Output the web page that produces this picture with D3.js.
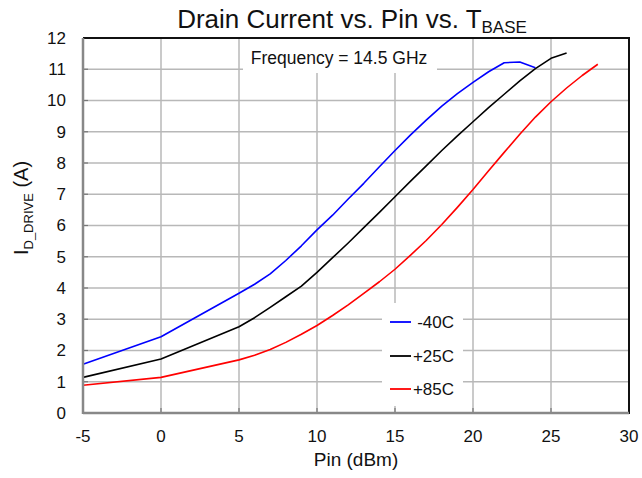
<!DOCTYPE html>
<html><head><meta charset="utf-8">
<script src="https://cdn.jsdelivr.net/npm/d3@7"></script>
<style>body{margin:0;background:#fff}svg{display:block;font-family:"Liberation Sans",Arial,sans-serif}</style>
</head><body><svg id="c" width="642" height="478"></svg>
<script>
const xTicks = [-5,0,5,10,15,20,25,30];
const yTicks = [0,1,2,3,4,5,6,7,8,9,10,11,12];
const seriesNames = ["-40C","+25C","+85C"];
const seriesColors = ["#0000ff","#000000","#ff0000"];
const pinM40 = [-5,0,5,6,7,8,9,10,11,12,13,14,15,16,17,18,19,20,21,22,23,24];
const idM40  = [1.56,2.44,3.83,4.12,4.45,4.88,5.35,5.86,6.33,6.85,7.35,7.88,8.4,8.9,9.37,9.82,10.22,10.58,10.92,11.21,11.23,11.05];
const pinP25 = [-5,0,5,6,7,8,9,10,11,12,13,14,15,16,17,18,19,20,21,22,23,24,25,26];
const idP25  = [1.14,1.73,2.76,3.05,3.38,3.72,4.06,4.5,4.97,5.44,5.93,6.42,6.92,7.42,7.91,8.4,8.87,9.32,9.77,10.2,10.63,11.02,11.35,11.52];
const pinP85 = [-5,0,5,6,7,8,9,10,11,12,13,14,15,16,17,18,19,20,21,22,23,24,25,26,27,28];
const idP85  = [0.89,1.14,1.70,1.85,2.03,2.26,2.52,2.80,3.12,3.46,3.83,4.2,4.6,5.05,5.52,6.03,6.58,7.15,7.75,8.34,8.92,9.47,9.96,10.4,10.8,11.16];

const svg = d3.select("#c");
const L=83, R=629, T=38, B=413;
const x = d3.scaleLinear().domain([-5,30]).range([L,R]);
const y = d3.scaleLinear().domain([0,12]).range([B,T]);

// gridlines
svg.append("g").selectAll("line").data(yTicks.slice(1,-1)).join("line")
  .attr("x1",L).attr("x2",R).attr("y1",d=>y(d)).attr("y2",d=>y(d))
  .attr("stroke","#b8b8b8").attr("stroke-width",1.5);
svg.append("g").selectAll("line").data(xTicks.slice(1,-1)).join("line")
  .attr("x1",d=>x(d)).attr("x2",d=>x(d)).attr("y1",T).attr("y2",B)
  .attr("stroke","#b8b8b8").attr("stroke-width",1.5);

// text boxes (cover gridlines)
svg.append("rect").attr("x",243).attr("y",T+1).attr("width",194).attr("height",34).attr("fill","#fff");
svg.append("rect").attr("x",382).attr("y",303).attr("width",81).attr("height",103).attr("fill","#fff");

// ticks inside
svg.append("g").selectAll("line").data(yTicks).join("line")
  .attr("x1",L).attr("x2",L+5).attr("y1",d=>y(d)).attr("y2",d=>y(d)).attr("stroke","#777").attr("stroke-width",1.2);
svg.append("g").selectAll("line").data(xTicks).join("line")
  .attr("x1",d=>x(d)).attr("x2",d=>x(d)).attr("y1",B).attr("y2",B-5).attr("stroke","#777").attr("stroke-width",1.2);

// curves
const series = [[pinM40,idM40],[pinP25,idP25],[pinP85,idP85]];
const line = d3.line().x(d=>x(d[0])).y(d=>y(d[1]));
series.forEach((s,i)=>{
  const pts = s[0].map((p,j)=>[p,s[1][j]]);
  svg.append("path").attr("d",line(pts)).attr("fill","none")
    .attr("stroke",seriesColors[i]).attr("stroke-width",1.6).attr("stroke-linejoin","round");
});

// frame
svg.append("line").attr("x1",L).attr("x2",R+1).attr("y1",T).attr("y2",T).attr("stroke","#111").attr("stroke-width",2);
svg.append("line").attr("x1",R).attr("x2",R).attr("y1",T).attr("y2",B+1).attr("stroke","#111").attr("stroke-width",2);
svg.append("line").attr("x1",L).attr("x2",R).attr("y1",B).attr("y2",B).attr("stroke","#888").attr("stroke-width",2.5);
svg.append("line").attr("x1",L).attr("x2",L).attr("y1",T).attr("y2",B+1).attr("stroke","#888").attr("stroke-width",2.5);

// tick labels
svg.append("g").selectAll("text").data(yTicks).join("text")
  .attr("x",L-17).attr("y",d=>y(d)).attr("dy","0.35em").attr("text-anchor","end")
  .attr("font-size",17).attr("fill","#111").text(d=>d);
svg.append("g").selectAll("text").data(xTicks).join("text")
  .attr("x",d=>x(d)).attr("y",442).attr("text-anchor","middle")
  .attr("font-size",17).attr("fill","#111").text(d=>d);

// axis titles
svg.append("text").attr("x",356).attr("y",466).attr("text-anchor","middle")
  .attr("font-size",19).attr("fill","#111").text("Pin (dBm)");
const yl = svg.append("text").attr("transform","translate(28,208) rotate(-90)")
  .attr("text-anchor","middle").attr("font-size",20).attr("fill","#111");
yl.append("tspan").text("I");
yl.append("tspan").attr("font-size",13).attr("dy",5).text("D_DRIVE");
yl.append("tspan").attr("dy",-5).text(" (A)");

// title
const tt = svg.append("text").attr("x",352).attr("y",28).attr("text-anchor","middle")
  .attr("font-size",26).attr("fill","#111");
tt.append("tspan").text("Drain Current vs. Pin vs. T");
tt.append("tspan").attr("font-size",17).attr("dy",5).text("BASE");

// frequency note
svg.append("text").attr("x",339).attr("y",64).attr("text-anchor","middle")
  .attr("font-size",17.5).attr("fill","#111").text("Frequency = 14.5 GHz");

// legend
const ly = [322,356,389];
seriesNames.forEach((n,i)=>{
  svg.append("line").attr("x1",390).attr("x2",411).attr("y1",ly[i]).attr("y2",ly[i])
    .attr("stroke",seriesColors[i]).attr("stroke-width",1.8);
  svg.append("text").attr("x",454).attr("y",ly[i]+6).attr("text-anchor","end")
    .attr("font-size",17).attr("fill","#111").text(n);
});
</script></body></html>
